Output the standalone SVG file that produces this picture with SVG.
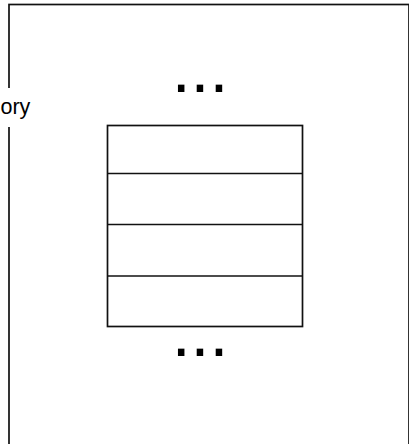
<svg xmlns="http://www.w3.org/2000/svg" width="409" height="444" viewBox="0 0 409 444">
<style>
.ln{fill:none;stroke:#111;stroke-width:1.7}
.t{font-family:"Liberation Sans",Arial,sans-serif;fill:#000}
</style>
<rect width="409" height="444" fill="#fff"/>
<g id="container">
<rect class="ln" x="9" y="4.5" width="400" height="460"/>
<rect x="0" y="88" width="32" height="39" fill="#fff"/>
<text class="t" x="0.5" y="114" font-size="21.5">ory</text>
</g>
<g id="dots-top"><text class="t" x="200" y="92.4" font-size="68" text-anchor="middle">...</text></g>
<g id="stack">
<rect class="ln" x="107.5" y="125.5" width="195" height="201"/>
<line class="ln" x1="107.5" y1="173.5" x2="302.5" y2="173.5" stroke-width="2.3"/>
<line class="ln" x1="107.5" y1="224.5" x2="302.5" y2="224.5"/>
<line class="ln" x1="107.5" y1="276" x2="302.5" y2="276"/>
</g>
<g id="dots-bottom"><text class="t" x="200" y="356.4" font-size="68" text-anchor="middle">...</text></g>
</svg>
